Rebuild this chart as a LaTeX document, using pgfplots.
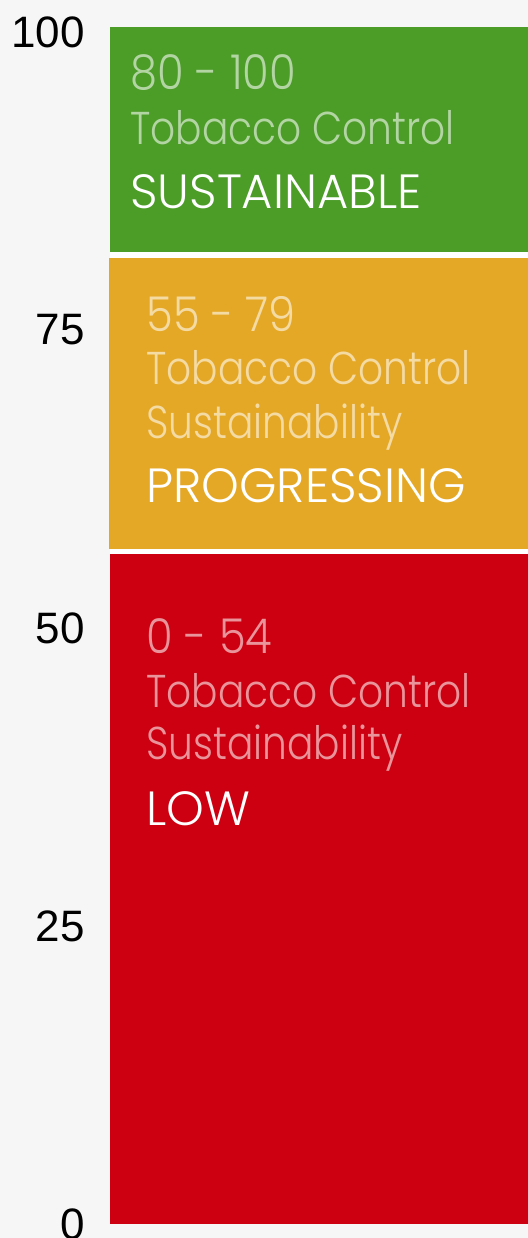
\documentclass[border=0pt]{standalone}
\usepackage{pgfplots}
\pgfplotsset{compat=1.18}
\usepackage{fontspec}
\setmainfont{Liberation Sans}
\newfontfamily\lightfont{Poppins Light}
\newfontfamily\narrowfont{Poppins Light}[FakeStretch=0.85]
\newfontfamily\digitfont{Poppins Light}[FakeStretch=0.9]
\definecolor{bg}{HTML}{F6F6F6}
\definecolor{cgreen}{HTML}{4C9C28}
\definecolor{cyellow}{HTML}{E5A826}
\definecolor{cred}{HTML}{CC0011}
\begin{document}
\begin{tikzpicture}
\begin{axis}[
  scale only axis, width=264pt, height=619pt,
  xmin=-0.26316, xmax=1, ymin=-1.1745, ymax=102.68,
  axis background/.style={fill=bg},
  axis line style={draw=none},
  xtick=\empty, ytick={0,25,50,75,100},
  major tick length=0pt,
  yticklabel style={anchor=east, inner sep=0pt, xshift=42.5pt, font=\fontsize{22}{22}\selectfont},
  /pgf/number format/assume math mode=true,
  clip=false,
]
\addplot[fill=cred, draw=none] coordinates {(0,0) (1,0) (1,56.23) (0,56.23)} -- cycle;
\addplot[fill=white, draw=none] coordinates {(0,56.23) (1,56.23) (1,56.63) (0,56.63)} -- cycle;
\addplot[fill=cyellow, draw=none] coordinates {(-0.0024,56.63) (1,56.63) (1,81.04) (-0.0024,81.04)} -- cycle;
\addplot[fill=white, draw=none] coordinates {(0,81.04) (1,81.04) (1,81.57) (0,81.57)} -- cycle;
\addplot[fill=cgreen, draw=none] coordinates {(0,81.57) (1,81.57) (1,100.42) (0,100.42)} -- cycle;

\tikzset{dimd/.style={anchor=base west, inner sep=0pt, text=white, text opacity=0.58, font=\digitfont\fontsize{24}{24}\selectfont},
         dim/.style={anchor=base west, inner sep=0pt, text=white, text opacity=0.58, font=\narrowfont\fontsize{23}{23}\selectfont},
         strong/.style={anchor=base west, inner sep=0pt, text=white, font=\lightfont\fontsize{24}{24}\selectfont}}
\node[dimd] at (axis cs:0.0478,95.13) {80 - 100};
\node[dim] at (axis cs:0.0478,90.52) {Tobacco Control};
\node[strong] at (axis cs:0.0478,85.15) {SUSTAINABLE};

\node[dimd] at (axis cs:0.0861,74.86) {55 - 79};
\node[dim] at (axis cs:0.0861,70.39) {Tobacco Control};
\node[dim] at (axis cs:0.0861,65.86) {Sustainability};
\node[strong] at (axis cs:0.0861,60.49) {PROGRESSING};

\node[dimd] at (axis cs:0.0861,47.90) {0 - 54};
\node[dim] at (axis cs:0.0861,43.31) {Tobacco Control};
\node[dim] at (axis cs:0.0861,38.93) {Sustainability};
\node[strong] at (axis cs:0.0861,33.39) {LOW};
\end{axis}
\pgfresetboundingbox
\path (current axis.south west) rectangle (current axis.north east);
\end{tikzpicture}
\end{document}
